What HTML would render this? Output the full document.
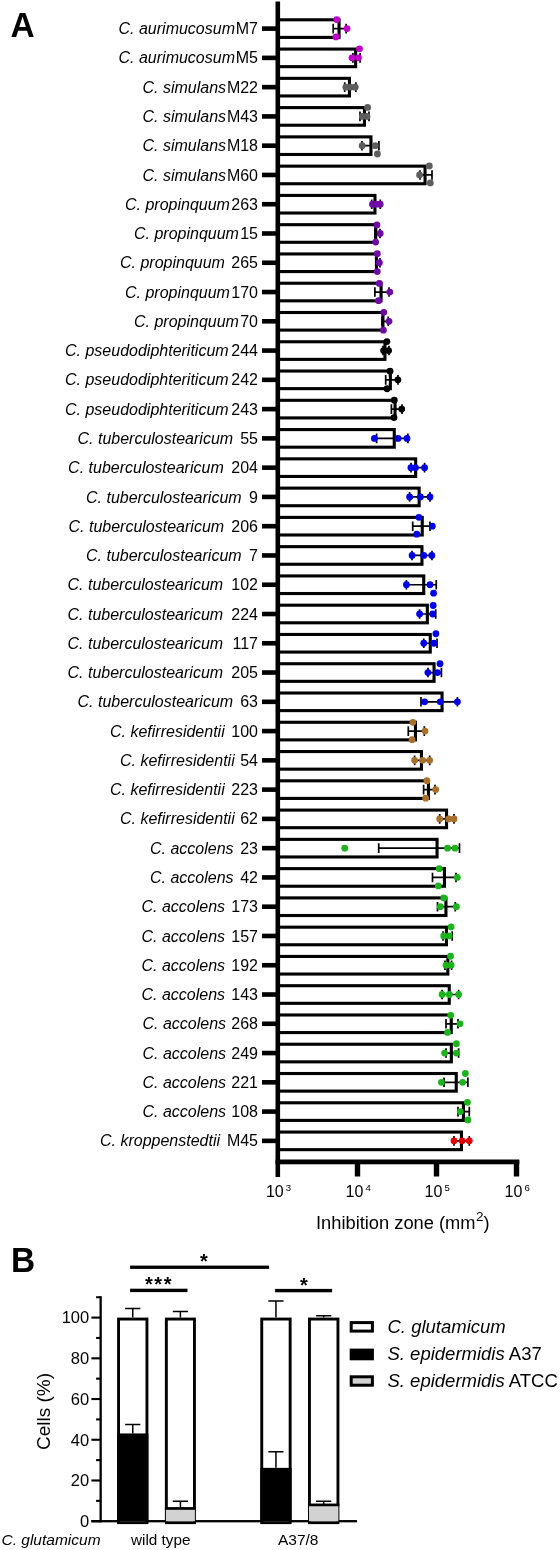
<!DOCTYPE html><html><head><meta charset="utf-8"><style>html,body{margin:0;padding:0;background:#fff;}svg{display:block;will-change:transform;}text{font-family:"Liberation Sans",sans-serif;}</style></head><body>
<svg width="560" height="1550" viewBox="0 0 560 1550">
<rect width="560" height="1550" fill="#fff"/>
<text transform="translate(10.4,37.4) scale(0.93,1)" font-size="36" font-weight="bold">A</text>
<g font-size="16">
<text x="118.5" y="34.2" font-style="italic">C. aurimucosum</text>
<text x="258" y="34.2" text-anchor="end">M7</text>
<text x="118.5" y="63.47" font-style="italic">C. aurimucosum</text>
<text x="258" y="63.47" text-anchor="end">M5</text>
<text x="142.5" y="92.74" font-style="italic">C. simulans</text>
<text x="258" y="92.74" text-anchor="end">M22</text>
<text x="142.5" y="122.01" font-style="italic">C. simulans</text>
<text x="258" y="122.01" text-anchor="end">M43</text>
<text x="142.5" y="151.28" font-style="italic">C. simulans</text>
<text x="258" y="151.28" text-anchor="end">M18</text>
<text x="142.5" y="180.55" font-style="italic">C. simulans</text>
<text x="258" y="180.55" text-anchor="end">M60</text>
<text x="125" y="209.82" font-style="italic">C. propinquum</text>
<text x="258" y="209.82" text-anchor="end">263</text>
<text x="134" y="239.09" font-style="italic">C. propinquum</text>
<text x="258" y="239.09" text-anchor="end">15</text>
<text x="120" y="268.36" font-style="italic">C. propinquum</text>
<text x="258" y="268.36" text-anchor="end">265</text>
<text x="125" y="297.63" font-style="italic">C. propinquum</text>
<text x="258" y="297.63" text-anchor="end">170</text>
<text x="134" y="326.9" font-style="italic">C. propinquum</text>
<text x="258" y="326.9" text-anchor="end">70</text>
<text x="65" y="356.17" font-style="italic">C. pseudodiphteriticum</text>
<text x="258" y="356.17" text-anchor="end">244</text>
<text x="65" y="385.44" font-style="italic">C. pseudodiphteriticum</text>
<text x="258" y="385.44" text-anchor="end">242</text>
<text x="65" y="414.71" font-style="italic">C. pseudodiphteriticum</text>
<text x="258" y="414.71" text-anchor="end">243</text>
<text x="77.5" y="443.98" font-style="italic">C. tuberculostearicum</text>
<text x="258" y="443.98" text-anchor="end">55</text>
<text x="68.1" y="473.25" font-style="italic">C. tuberculostearicum</text>
<text x="258" y="473.25" text-anchor="end">204</text>
<text x="86" y="502.52" font-style="italic">C. tuberculostearicum</text>
<text x="258" y="502.52" text-anchor="end">9</text>
<text x="68.5" y="531.79" font-style="italic">C. tuberculostearicum</text>
<text x="258" y="531.79" text-anchor="end">206</text>
<text x="86" y="561.06" font-style="italic">C. tuberculostearicum</text>
<text x="258" y="561.06" text-anchor="end">7</text>
<text x="67.5" y="590.33" font-style="italic">C. tuberculostearicum</text>
<text x="258" y="590.33" text-anchor="end">102</text>
<text x="67.5" y="619.6" font-style="italic">C. tuberculostearicum</text>
<text x="258" y="619.6" text-anchor="end">224</text>
<text x="67.5" y="648.87" font-style="italic">C. tuberculostearicum</text>
<text x="258" y="648.87" text-anchor="end">117</text>
<text x="67.5" y="678.14" font-style="italic">C. tuberculostearicum</text>
<text x="258" y="678.14" text-anchor="end">205</text>
<text x="77.5" y="707.41" font-style="italic">C. tuberculostearicum</text>
<text x="258" y="707.41" text-anchor="end">63</text>
<text x="110" y="736.68" font-style="italic">C. kefirresidentii</text>
<text x="258" y="736.68" text-anchor="end">100</text>
<text x="120" y="765.95" font-style="italic">C. kefirresidentii</text>
<text x="258" y="765.95" text-anchor="end">54</text>
<text x="110" y="795.22" font-style="italic">C. kefirresidentii</text>
<text x="258" y="795.22" text-anchor="end">223</text>
<text x="120" y="824.49" font-style="italic">C. kefirresidentii</text>
<text x="258" y="824.49" text-anchor="end">62</text>
<text x="150" y="853.76" font-style="italic">C. accolens</text>
<text x="258" y="853.76" text-anchor="end">23</text>
<text x="150" y="883.03" font-style="italic">C. accolens</text>
<text x="258" y="883.03" text-anchor="end">42</text>
<text x="141.5" y="912.3" font-style="italic">C. accolens</text>
<text x="258" y="912.3" text-anchor="end">173</text>
<text x="141.5" y="941.57" font-style="italic">C. accolens</text>
<text x="258" y="941.57" text-anchor="end">157</text>
<text x="141.5" y="970.84" font-style="italic">C. accolens</text>
<text x="258" y="970.84" text-anchor="end">192</text>
<text x="141.5" y="1000.11" font-style="italic">C. accolens</text>
<text x="258" y="1000.11" text-anchor="end">143</text>
<text x="142.5" y="1029.38" font-style="italic">C. accolens</text>
<text x="258" y="1029.38" text-anchor="end">268</text>
<text x="142.5" y="1058.65" font-style="italic">C. accolens</text>
<text x="258" y="1058.65" text-anchor="end">249</text>
<text x="142.5" y="1087.92" font-style="italic">C. accolens</text>
<text x="258" y="1087.92" text-anchor="end">221</text>
<text x="142.5" y="1117.19" font-style="italic">C. accolens</text>
<text x="258" y="1117.19" text-anchor="end">108</text>
<text x="100" y="1146.46" font-style="italic">C. kroppenstedtii</text>
<text x="258" y="1146.46" text-anchor="end">M45</text>
</g>
<rect x="277.8" y="19.8" width="61.25" height="17.6" fill="none" stroke="#000" stroke-width="3.1"/>
<rect x="277.8" y="49.07" width="77.85" height="17.6" fill="none" stroke="#000" stroke-width="3.1"/>
<rect x="277.8" y="78.34" width="71.65" height="17.6" fill="none" stroke="#000" stroke-width="3.1"/>
<rect x="277.8" y="107.61" width="86.65" height="17.6" fill="none" stroke="#000" stroke-width="3.1"/>
<rect x="277.8" y="136.88" width="93.15" height="17.6" fill="none" stroke="#000" stroke-width="3.1"/>
<rect x="277.8" y="166.15" width="147.25" height="17.6" fill="none" stroke="#000" stroke-width="3.1"/>
<rect x="277.8" y="195.42" width="97.15" height="17.6" fill="none" stroke="#000" stroke-width="3.1"/>
<rect x="277.8" y="224.69" width="97.95" height="17.6" fill="none" stroke="#000" stroke-width="3.1"/>
<rect x="277.8" y="253.96" width="98.65" height="17.6" fill="none" stroke="#000" stroke-width="3.1"/>
<rect x="277.8" y="283.23" width="103.25" height="17.6" fill="none" stroke="#000" stroke-width="3.1"/>
<rect x="277.8" y="312.5" width="105.15" height="17.6" fill="none" stroke="#000" stroke-width="3.1"/>
<rect x="277.8" y="341.77" width="107.15" height="17.6" fill="none" stroke="#000" stroke-width="3.1"/>
<rect x="277.8" y="371.04" width="112.55" height="17.6" fill="none" stroke="#000" stroke-width="3.1"/>
<rect x="277.8" y="400.31" width="117.25" height="17.6" fill="none" stroke="#000" stroke-width="3.1"/>
<rect x="277.8" y="429.58" width="116.45" height="17.6" fill="none" stroke="#000" stroke-width="3.1"/>
<rect x="277.8" y="458.85" width="137.85" height="17.6" fill="none" stroke="#000" stroke-width="3.1"/>
<rect x="277.8" y="488.12" width="141.35" height="17.6" fill="none" stroke="#000" stroke-width="3.1"/>
<rect x="277.8" y="517.39" width="144.45" height="17.6" fill="none" stroke="#000" stroke-width="3.1"/>
<rect x="277.8" y="546.66" width="144.15" height="17.6" fill="none" stroke="#000" stroke-width="3.1"/>
<rect x="277.8" y="575.93" width="145.95" height="17.6" fill="none" stroke="#000" stroke-width="3.1"/>
<rect x="277.8" y="605.2" width="149.55" height="17.6" fill="none" stroke="#000" stroke-width="3.1"/>
<rect x="277.8" y="634.47" width="152.45" height="17.6" fill="none" stroke="#000" stroke-width="3.1"/>
<rect x="277.8" y="663.74" width="156.25" height="17.6" fill="none" stroke="#000" stroke-width="3.1"/>
<rect x="277.8" y="693.01" width="164.25" height="17.6" fill="none" stroke="#000" stroke-width="3.1"/>
<rect x="277.8" y="722.28" width="137.65" height="17.6" fill="none" stroke="#000" stroke-width="3.1"/>
<rect x="277.8" y="751.55" width="143.65" height="17.6" fill="none" stroke="#000" stroke-width="3.1"/>
<rect x="277.8" y="780.82" width="150.65" height="17.6" fill="none" stroke="#000" stroke-width="3.1"/>
<rect x="277.8" y="810.09" width="168.75" height="17.6" fill="none" stroke="#000" stroke-width="3.1"/>
<rect x="277.8" y="839.36" width="159.25" height="17.6" fill="none" stroke="#000" stroke-width="3.1"/>
<rect x="277.8" y="868.63" width="166.65" height="17.6" fill="none" stroke="#000" stroke-width="3.1"/>
<rect x="277.8" y="897.9" width="168.15" height="17.6" fill="none" stroke="#000" stroke-width="3.1"/>
<rect x="277.8" y="927.17" width="168.65" height="17.6" fill="none" stroke="#000" stroke-width="3.1"/>
<rect x="277.8" y="956.44" width="170.05" height="17.6" fill="none" stroke="#000" stroke-width="3.1"/>
<rect x="277.8" y="985.71" width="171.45" height="17.6" fill="none" stroke="#000" stroke-width="3.1"/>
<rect x="277.8" y="1014.98" width="173.45" height="17.6" fill="none" stroke="#000" stroke-width="3.1"/>
<rect x="277.8" y="1044.25" width="173.55" height="17.6" fill="none" stroke="#000" stroke-width="3.1"/>
<rect x="277.8" y="1073.52" width="178.45" height="17.6" fill="none" stroke="#000" stroke-width="3.1"/>
<rect x="277.8" y="1102.79" width="185.65" height="17.6" fill="none" stroke="#000" stroke-width="3.1"/>
<rect x="277.8" y="1132.06" width="183.65" height="17.6" fill="none" stroke="#000" stroke-width="3.1"/>
<path d="M333.2 28.6H346.1M333.2 23.8V33.4M346.1 23.8V33.4" stroke="#000" stroke-width="1.7" fill="none"/>
<path d="M352.9 57.87H360.1M352.9 53.07V62.67M360.1 53.07V62.67" stroke="#000" stroke-width="1.7" fill="none"/>
<path d="M344.7 87.14H355.9M344.7 82.34V91.94M355.9 82.34V91.94" stroke="#000" stroke-width="1.7" fill="none"/>
<path d="M360 116.41H369M360 111.61V121.21M369 111.61V121.21" stroke="#000" stroke-width="1.7" fill="none"/>
<path d="M362 145.68H378.9M362 140.88V150.48M378.9 140.88V150.48" stroke="#000" stroke-width="1.7" fill="none"/>
<path d="M420 174.95H432M420 170.15V179.75M432 170.15V179.75" stroke="#000" stroke-width="1.7" fill="none"/>
<path d="M371.7 204.22H380.3M371.7 199.42V209.02M380.3 199.42V209.02" stroke="#000" stroke-width="1.7" fill="none"/>
<path d="M375 233.49H380M375 228.69V238.29M380 228.69V238.29" stroke="#000" stroke-width="1.7" fill="none"/>
<path d="M376 262.76H380M376 257.96V267.56M380 257.96V267.56" stroke="#000" stroke-width="1.7" fill="none"/>
<path d="M374.9 292.03H389M374.9 287.23V296.83M389 287.23V296.83" stroke="#000" stroke-width="1.7" fill="none"/>
<path d="M382 321.3H388.2M382 316.5V326.1M388.2 316.5V326.1" stroke="#000" stroke-width="1.7" fill="none"/>
<path d="M383 350.57H389M383 345.77V355.37M389 345.77V355.37" stroke="#000" stroke-width="1.7" fill="none"/>
<path d="M385.7 379.84H398M385.7 375.04V384.64M398 375.04V384.64" stroke="#000" stroke-width="1.7" fill="none"/>
<path d="M391.4 409.11H402M391.4 404.31V413.91M402 404.31V413.91" stroke="#000" stroke-width="1.7" fill="none"/>
<path d="M376.6 438.38H407.9M376.6 433.58V443.18M407.9 433.58V443.18" stroke="#000" stroke-width="1.7" fill="none"/>
<path d="M411 467.65H424.6M411 462.85V472.45M424.6 462.85V472.45" stroke="#000" stroke-width="1.7" fill="none"/>
<path d="M409.6 496.92H430M409.6 492.12V501.72M430 492.12V501.72" stroke="#000" stroke-width="1.7" fill="none"/>
<path d="M412.7 526.19H430M412.7 521.39V530.99M430 521.39V530.99" stroke="#000" stroke-width="1.7" fill="none"/>
<path d="M412 555.46H432M412 550.66V560.26M432 550.66V560.26" stroke="#000" stroke-width="1.7" fill="none"/>
<path d="M406.4 584.73H436.25M406.4 579.93V589.53M436.25 579.93V589.53" stroke="#000" stroke-width="1.7" fill="none"/>
<path d="M419.6 614H435.7M419.6 609.2V618.8M435.7 609.2V618.8" stroke="#000" stroke-width="1.7" fill="none"/>
<path d="M423.75 643.27H437M423.75 638.47V648.07M437 638.47V648.07" stroke="#000" stroke-width="1.7" fill="none"/>
<path d="M428 672.54H441.4M428 667.74V677.34M441.4 667.74V677.34" stroke="#000" stroke-width="1.7" fill="none"/>
<path d="M421 701.81H457.4M421 697.01V706.61M457.4 697.01V706.61" stroke="#000" stroke-width="1.7" fill="none"/>
<path d="M408.3 731.08H424.3M408.3 726.28V735.88M424.3 726.28V735.88" stroke="#000" stroke-width="1.7" fill="none"/>
<path d="M414.6 760.35H429.7M414.6 755.55V765.15M429.7 755.55V765.15" stroke="#000" stroke-width="1.7" fill="none"/>
<path d="M423.6 789.62H435M423.6 784.82V794.42M435 784.82V794.42" stroke="#000" stroke-width="1.7" fill="none"/>
<path d="M439.7 818.89H454M439.7 814.09V823.69M454 814.09V823.69" stroke="#000" stroke-width="1.7" fill="none"/>
<path d="M378.7 848.16H459.5M378.7 843.36V852.96M459.5 843.36V852.96" stroke="#000" stroke-width="1.7" fill="none"/>
<path d="M432.5 877.43H456M432.5 872.63V882.23M456 872.63V882.23" stroke="#000" stroke-width="1.7" fill="none"/>
<path d="M437.5 906.7H455.3M437.5 901.9V911.5M455.3 901.9V911.5" stroke="#000" stroke-width="1.7" fill="none"/>
<path d="M443 935.97H452.2M443 931.17V940.77M452.2 931.17V940.77" stroke="#000" stroke-width="1.7" fill="none"/>
<path d="M445 965.24H451.6M445 960.44V970.04M451.6 960.44V970.04" stroke="#000" stroke-width="1.7" fill="none"/>
<path d="M442.1 994.51H458.6M442.1 989.71V999.31M458.6 989.71V999.31" stroke="#000" stroke-width="1.7" fill="none"/>
<path d="M446 1023.78H458M446 1018.98V1028.58M458 1018.98V1028.58" stroke="#000" stroke-width="1.7" fill="none"/>
<path d="M446 1053.05H458.6M446 1048.25V1057.85M458.6 1048.25V1057.85" stroke="#000" stroke-width="1.7" fill="none"/>
<path d="M444 1082.32H467.9M444 1077.52V1087.12M467.9 1077.52V1087.12" stroke="#000" stroke-width="1.7" fill="none"/>
<path d="M458 1111.59H469.3M458 1106.79V1116.39M469.3 1106.79V1116.39" stroke="#000" stroke-width="1.7" fill="none"/>
<path d="M454 1140.86H469.3M454 1136.06V1145.66M469.3 1136.06V1145.66" stroke="#000" stroke-width="1.7" fill="none"/>
<circle cx="336.7" cy="19.6" r="3.4" fill="#c000c8"/>
<circle cx="347" cy="28.6" r="3.4" fill="#c000c8"/>
<circle cx="336" cy="36.9" r="3.4" fill="#c000c8"/>
<circle cx="359.5" cy="48.87" r="3.4" fill="#c000c8"/>
<circle cx="352" cy="57.87" r="3.4" fill="#c000c8"/>
<circle cx="358.5" cy="57.87" r="3.4" fill="#c000c8"/>
<circle cx="345.9" cy="87.14" r="3.4" fill="#5e5e5e"/>
<circle cx="350.5" cy="87.14" r="3.4" fill="#5e5e5e"/>
<circle cx="355.2" cy="87.14" r="3.4" fill="#5e5e5e"/>
<circle cx="367.6" cy="107.41" r="3.4" fill="#5e5e5e"/>
<circle cx="362.4" cy="116.41" r="3.4" fill="#5e5e5e"/>
<circle cx="367" cy="116.41" r="3.4" fill="#5e5e5e"/>
<circle cx="362.2" cy="145.68" r="3.4" fill="#5e5e5e"/>
<circle cx="375.3" cy="145.68" r="3.4" fill="#5e5e5e"/>
<circle cx="377.4" cy="153.98" r="3.4" fill="#5e5e5e"/>
<circle cx="429.3" cy="165.95" r="3.4" fill="#5e5e5e"/>
<circle cx="419.6" cy="174.95" r="3.4" fill="#5e5e5e"/>
<circle cx="430.3" cy="182.95" r="3.4" fill="#5e5e5e"/>
<circle cx="372.5" cy="204.22" r="3.4" fill="#6e0aa6"/>
<circle cx="376.5" cy="204.22" r="3.4" fill="#6e0aa6"/>
<circle cx="380.2" cy="204.22" r="3.4" fill="#6e0aa6"/>
<circle cx="376.9" cy="224.89" r="3.4" fill="#6e0aa6"/>
<circle cx="380.2" cy="233.49" r="3.4" fill="#6e0aa6"/>
<circle cx="375.7" cy="242.09" r="3.4" fill="#6e0aa6"/>
<circle cx="377.3" cy="253.76" r="3.4" fill="#6e0aa6"/>
<circle cx="379.4" cy="262.76" r="3.4" fill="#6e0aa6"/>
<circle cx="377.3" cy="271.56" r="3.4" fill="#6e0aa6"/>
<circle cx="379.3" cy="283.43" r="3.4" fill="#6e0aa6"/>
<circle cx="389.8" cy="292.03" r="3.4" fill="#6e0aa6"/>
<circle cx="378.6" cy="300.63" r="3.4" fill="#6e0aa6"/>
<circle cx="383.8" cy="312.3" r="3.4" fill="#6e0aa6"/>
<circle cx="389" cy="321.3" r="3.4" fill="#6e0aa6"/>
<circle cx="383.4" cy="330.2" r="3.4" fill="#6e0aa6"/>
<circle cx="386.9" cy="341.57" r="3.4" fill="#000"/>
<circle cx="383.6" cy="350.57" r="3.4" fill="#000"/>
<circle cx="388.6" cy="350.57" r="3.4" fill="#000"/>
<circle cx="390" cy="371.24" r="3.4" fill="#000"/>
<circle cx="397.9" cy="379.84" r="3.4" fill="#000"/>
<circle cx="387.1" cy="388.74" r="3.4" fill="#000"/>
<circle cx="394.3" cy="400.21" r="3.4" fill="#000"/>
<circle cx="401.7" cy="409.11" r="3.4" fill="#000"/>
<circle cx="394" cy="417.61" r="3.4" fill="#000"/>
<circle cx="374.4" cy="438.38" r="3.4" fill="#0000e6"/>
<circle cx="398" cy="438.38" r="3.4" fill="#0000e6"/>
<circle cx="407" cy="438.38" r="3.4" fill="#0000e6"/>
<circle cx="410.9" cy="467.65" r="3.4" fill="#0000e6"/>
<circle cx="415.4" cy="467.65" r="3.4" fill="#0000e6"/>
<circle cx="424.6" cy="467.65" r="3.4" fill="#0000e6"/>
<circle cx="409.6" cy="496.92" r="3.4" fill="#0000e6"/>
<circle cx="420.4" cy="496.92" r="3.4" fill="#0000e6"/>
<circle cx="430" cy="496.92" r="3.4" fill="#0000e6"/>
<circle cx="418.9" cy="517.29" r="3.4" fill="#0000e6"/>
<circle cx="432.3" cy="526.19" r="3.4" fill="#0000e6"/>
<circle cx="416.8" cy="534.19" r="3.4" fill="#0000e6"/>
<circle cx="412.1" cy="555.46" r="3.4" fill="#0000e6"/>
<circle cx="423.75" cy="555.46" r="3.4" fill="#0000e6"/>
<circle cx="431.8" cy="555.46" r="3.4" fill="#0000e6"/>
<circle cx="406.4" cy="584.73" r="3.4" fill="#0000e6"/>
<circle cx="430" cy="584.73" r="3.4" fill="#0000e6"/>
<circle cx="433.6" cy="593.13" r="3.4" fill="#0000e6"/>
<circle cx="433.2" cy="605.5" r="3.4" fill="#0000e6"/>
<circle cx="419.6" cy="614" r="3.4" fill="#0000e6"/>
<circle cx="432.7" cy="614" r="3.4" fill="#0000e6"/>
<circle cx="435.9" cy="633.77" r="3.4" fill="#0000e6"/>
<circle cx="423.75" cy="643.27" r="3.4" fill="#0000e6"/>
<circle cx="433.9" cy="643.27" r="3.4" fill="#0000e6"/>
<circle cx="440" cy="663.74" r="3.4" fill="#0000e6"/>
<circle cx="427.9" cy="672.54" r="3.4" fill="#0000e6"/>
<circle cx="437.4" cy="672.54" r="3.4" fill="#0000e6"/>
<circle cx="424.6" cy="701.81" r="3.4" fill="#0000e6"/>
<circle cx="440.3" cy="701.81" r="3.4" fill="#0000e6"/>
<circle cx="457.4" cy="701.81" r="3.4" fill="#0000e6"/>
<circle cx="412.9" cy="722.28" r="3.4" fill="#a8702a"/>
<circle cx="425" cy="731.08" r="3.4" fill="#a8702a"/>
<circle cx="412.1" cy="739.68" r="3.4" fill="#a8702a"/>
<circle cx="414.6" cy="760.35" r="3.4" fill="#a8702a"/>
<circle cx="422.6" cy="760.35" r="3.4" fill="#a8702a"/>
<circle cx="429.7" cy="760.35" r="3.4" fill="#a8702a"/>
<circle cx="426.9" cy="780.72" r="3.4" fill="#a8702a"/>
<circle cx="435.7" cy="789.62" r="3.4" fill="#a8702a"/>
<circle cx="425.7" cy="798.22" r="3.4" fill="#a8702a"/>
<circle cx="439.7" cy="818.89" r="3.4" fill="#a8702a"/>
<circle cx="448.6" cy="818.89" r="3.4" fill="#a8702a"/>
<circle cx="454" cy="818.89" r="3.4" fill="#a8702a"/>
<circle cx="344.7" cy="848.16" r="3.4" fill="#1db31d"/>
<circle cx="447.5" cy="848.16" r="3.4" fill="#1db31d"/>
<circle cx="455" cy="848.16" r="3.4" fill="#1db31d"/>
<circle cx="439.25" cy="868.68" r="3.4" fill="#1db31d"/>
<circle cx="457.3" cy="877.43" r="3.4" fill="#1db31d"/>
<circle cx="438.25" cy="885.93" r="3.4" fill="#1db31d"/>
<circle cx="443.75" cy="897.95" r="3.4" fill="#1db31d"/>
<circle cx="440.3" cy="906.7" r="3.4" fill="#1db31d"/>
<circle cx="456.4" cy="906.7" r="3.4" fill="#1db31d"/>
<circle cx="451.1" cy="926.97" r="3.4" fill="#1db31d"/>
<circle cx="443.7" cy="935.97" r="3.4" fill="#1db31d"/>
<circle cx="449.2" cy="935.97" r="3.4" fill="#1db31d"/>
<circle cx="450.5" cy="956.24" r="3.4" fill="#1db31d"/>
<circle cx="446" cy="965.24" r="3.4" fill="#1db31d"/>
<circle cx="451" cy="965.24" r="3.4" fill="#1db31d"/>
<circle cx="442.1" cy="994.51" r="3.4" fill="#1db31d"/>
<circle cx="449.3" cy="994.51" r="3.4" fill="#1db31d"/>
<circle cx="458.6" cy="994.51" r="3.4" fill="#1db31d"/>
<circle cx="450.7" cy="1015.28" r="3.4" fill="#1db31d"/>
<circle cx="460" cy="1023.78" r="3.4" fill="#1db31d"/>
<circle cx="447.6" cy="1032.38" r="3.4" fill="#1db31d"/>
<circle cx="456.4" cy="1043.75" r="3.4" fill="#1db31d"/>
<circle cx="444.6" cy="1053.05" r="3.4" fill="#1db31d"/>
<circle cx="456.4" cy="1053.05" r="3.4" fill="#1db31d"/>
<circle cx="465.4" cy="1073.52" r="3.4" fill="#1db31d"/>
<circle cx="441.4" cy="1082.32" r="3.4" fill="#1db31d"/>
<circle cx="462.6" cy="1082.32" r="3.4" fill="#1db31d"/>
<circle cx="467.4" cy="1102.29" r="3.4" fill="#1db31d"/>
<circle cx="460.3" cy="1111.59" r="3.4" fill="#1db31d"/>
<circle cx="467.9" cy="1119.89" r="3.4" fill="#1db31d"/>
<circle cx="454" cy="1140.86" r="3.4" fill="#e00000"/>
<circle cx="462.1" cy="1140.86" r="3.4" fill="#e00000"/>
<circle cx="469.3" cy="1140.86" r="3.4" fill="#e00000"/>
<rect x="262" y="26.3" width="15.8" height="4.6" fill="#000"/>
<rect x="262" y="55.57" width="15.8" height="4.6" fill="#000"/>
<rect x="262" y="84.84" width="15.8" height="4.6" fill="#000"/>
<rect x="262" y="114.11" width="15.8" height="4.6" fill="#000"/>
<rect x="262" y="143.38" width="15.8" height="4.6" fill="#000"/>
<rect x="262" y="172.65" width="15.8" height="4.6" fill="#000"/>
<rect x="262" y="201.92" width="15.8" height="4.6" fill="#000"/>
<rect x="262" y="231.19" width="15.8" height="4.6" fill="#000"/>
<rect x="262" y="260.46" width="15.8" height="4.6" fill="#000"/>
<rect x="262" y="289.73" width="15.8" height="4.6" fill="#000"/>
<rect x="262" y="319" width="15.8" height="4.6" fill="#000"/>
<rect x="262" y="348.27" width="15.8" height="4.6" fill="#000"/>
<rect x="262" y="377.54" width="15.8" height="4.6" fill="#000"/>
<rect x="262" y="406.81" width="15.8" height="4.6" fill="#000"/>
<rect x="262" y="436.08" width="15.8" height="4.6" fill="#000"/>
<rect x="262" y="465.35" width="15.8" height="4.6" fill="#000"/>
<rect x="262" y="494.62" width="15.8" height="4.6" fill="#000"/>
<rect x="262" y="523.89" width="15.8" height="4.6" fill="#000"/>
<rect x="262" y="553.16" width="15.8" height="4.6" fill="#000"/>
<rect x="262" y="582.43" width="15.8" height="4.6" fill="#000"/>
<rect x="262" y="611.7" width="15.8" height="4.6" fill="#000"/>
<rect x="262" y="640.97" width="15.8" height="4.6" fill="#000"/>
<rect x="262" y="670.24" width="15.8" height="4.6" fill="#000"/>
<rect x="262" y="699.51" width="15.8" height="4.6" fill="#000"/>
<rect x="262" y="728.78" width="15.8" height="4.6" fill="#000"/>
<rect x="262" y="758.05" width="15.8" height="4.6" fill="#000"/>
<rect x="262" y="787.32" width="15.8" height="4.6" fill="#000"/>
<rect x="262" y="816.59" width="15.8" height="4.6" fill="#000"/>
<rect x="262" y="845.86" width="15.8" height="4.6" fill="#000"/>
<rect x="262" y="875.13" width="15.8" height="4.6" fill="#000"/>
<rect x="262" y="904.4" width="15.8" height="4.6" fill="#000"/>
<rect x="262" y="933.67" width="15.8" height="4.6" fill="#000"/>
<rect x="262" y="962.94" width="15.8" height="4.6" fill="#000"/>
<rect x="262" y="992.21" width="15.8" height="4.6" fill="#000"/>
<rect x="262" y="1021.48" width="15.8" height="4.6" fill="#000"/>
<rect x="262" y="1050.75" width="15.8" height="4.6" fill="#000"/>
<rect x="262" y="1080.02" width="15.8" height="4.6" fill="#000"/>
<rect x="262" y="1109.29" width="15.8" height="4.6" fill="#000"/>
<rect x="262" y="1138.56" width="15.8" height="4.6" fill="#000"/>
<rect x="275.5" y="1.5" width="4.6" height="1175.5" fill="#000"/>
<rect x="275.5" y="1159.5" width="243.8" height="4.8" fill="#000"/>
<rect x="354.8" y="1160" width="5.4" height="16.5" fill="#000"/>
<rect x="433.8" y="1160" width="5.4" height="16.5" fill="#000"/>
<rect x="513.8" y="1160" width="5.4" height="16.5" fill="#000"/>
<text x="265.9" y="1197.2" font-size="16">10<tspan font-size="9.6" dx="2" dy="-5.8">3</tspan></text>
<text x="345.6" y="1197.2" font-size="16">10<tspan font-size="9.6" dx="2" dy="-5.8">4</tspan></text>
<text x="424.6" y="1197.2" font-size="16">10<tspan font-size="9.6" dx="2" dy="-5.8">5</tspan></text>
<text x="504.6" y="1197.2" font-size="16">10<tspan font-size="9.6" dx="2" dy="-5.8">6</tspan></text>
<text x="316" y="1229.4" font-size="18.3">Inhibition zone (mm<tspan font-size="13.5" dx="0.5" dy="-8">2</tspan><tspan dy="8">)</tspan></text>
<text transform="translate(11.1,1271.7) scale(0.93,1)" font-size="36" font-weight="bold">B</text>
<rect x="99.5" y="1296.24" width="2.3" height="226.16" fill="#000"/>
<rect x="91.4" y="1520.05" width="265.6" height="2.3" fill="#000"/>
<rect x="91.4" y="1520.15" width="9" height="2.1" fill="#000"/>
<text x="89.2" y="1527" font-size="16.5" text-anchor="end">0</text>
<rect x="96.1" y="1499.79" width="5" height="2.1" fill="#000"/>
<rect x="91.4" y="1479.43" width="9" height="2.1" fill="#000"/>
<text x="89.2" y="1486.28" font-size="16.5" text-anchor="end">20</text>
<rect x="96.1" y="1459.07" width="5" height="2.1" fill="#000"/>
<rect x="91.4" y="1438.71" width="9" height="2.1" fill="#000"/>
<text x="89.2" y="1445.56" font-size="16.5" text-anchor="end">40</text>
<rect x="96.1" y="1418.35" width="5" height="2.1" fill="#000"/>
<rect x="91.4" y="1397.99" width="9" height="2.1" fill="#000"/>
<text x="89.2" y="1404.84" font-size="16.5" text-anchor="end">60</text>
<rect x="96.1" y="1377.63" width="5" height="2.1" fill="#000"/>
<rect x="91.4" y="1357.27" width="9" height="2.1" fill="#000"/>
<text x="89.2" y="1364.12" font-size="16.5" text-anchor="end">80</text>
<rect x="96.1" y="1336.91" width="5" height="2.1" fill="#000"/>
<rect x="91.4" y="1316.55" width="9" height="2.1" fill="#000"/>
<text x="89.2" y="1323.4" font-size="16.5" text-anchor="end">100</text>
<rect x="96.1" y="1296.19" width="5" height="2.1" fill="#000"/>
<rect x="118.55" y="1319.05" width="28.4" height="203.6" fill="#fff" stroke="#000" stroke-width="2.9"/>
<rect x="117.1" y="1433.45" width="31.3" height="87.75" fill="#000"/>
<path d="M132.75 1433.45V1424.59M125.15 1424.59H140.35" stroke="#000" stroke-width="1.5" fill="none"/>
<path d="M132.75 1317.6V1308.5M125.15 1308.5H140.35" stroke="#000" stroke-width="1.5" fill="none"/>
<rect x="166.35" y="1319.05" width="28.1" height="203.6" fill="#fff" stroke="#000" stroke-width="2.9"/>
<rect x="165.9" y="1508.45" width="29" height="12.75" fill="#d2d2d2"/>
<rect x="164.9" y="1507.1" width="31" height="2.7" fill="#000"/>
<path d="M180.4 1508.45V1501.25M172.8 1501.25H188" stroke="#000" stroke-width="1.5" fill="none"/>
<path d="M180.4 1317.6V1311.49M172.8 1311.49H188" stroke="#000" stroke-width="1.5" fill="none"/>
<rect x="261.75" y="1319.05" width="28.4" height="203.6" fill="#fff" stroke="#000" stroke-width="2.9"/>
<rect x="260.3" y="1467.86" width="31.3" height="53.34" fill="#000"/>
<path d="M275.95 1467.86V1451.77M268.35 1451.77H283.55" stroke="#000" stroke-width="1.5" fill="none"/>
<path d="M275.95 1317.6V1300.9M268.35 1300.9H283.55" stroke="#000" stroke-width="1.5" fill="none"/>
<rect x="309.45" y="1319.05" width="28.5" height="203.6" fill="#fff" stroke="#000" stroke-width="2.9"/>
<rect x="309" y="1504.91" width="29.4" height="16.29" fill="#d2d2d2"/>
<rect x="308" y="1503.56" width="31.4" height="2.7" fill="#000"/>
<path d="M323.7 1504.91V1501.25M316.1 1501.25H331.3" stroke="#000" stroke-width="1.5" fill="none"/>
<path d="M323.7 1317.6V1315.77M316.1 1315.77H331.3" stroke="#000" stroke-width="1.5" fill="none"/>
<rect x="130.1" y="1265.6" width="139" height="3.3" fill="#000"/>
<rect x="130.1" y="1288.7" width="57.4" height="3.4" fill="#000"/>
<rect x="275.1" y="1288.9" width="57" height="3.4" fill="#000"/>
<text x="159" y="1290.5" font-size="20" font-weight="bold" letter-spacing="1.6" text-anchor="middle">***</text>
<text x="203.8" y="1268" font-size="20" font-weight="bold" text-anchor="middle">*</text>
<text x="303.9" y="1291.5" font-size="20" font-weight="bold" text-anchor="middle">*</text>
<text transform="translate(50,1450) rotate(-90)" font-size="19">Cells (%)</text>
<rect x="351.2" y="1322.6" width="21.2" height="8.5" fill="#fff" stroke="#000" stroke-width="3"/>
<rect x="349.7" y="1348.6" width="24.2" height="11.7" fill="#000"/>
<rect x="351.2" y="1376.8" width="21.2" height="8.4" fill="#d4d4d4" stroke="#000" stroke-width="3"/>
<g font-size="18.5"><text x="387.5" y="1333.4" font-style="italic">C. glutamicum</text>
<text x="387.5" y="1360.3"><tspan font-style="italic">S. epidermidis</tspan> A37</text>
<text x="387.5" y="1386.7"><tspan font-style="italic">S. epidermidis</tspan> ATCC</text></g>
<text x="1.5" y="1545.4" font-size="15.5" font-style="italic">C. glutamicum</text>
<text x="160.7" y="1545.2" font-size="15.3" text-anchor="middle">wild type</text>
<text x="298.2" y="1545" font-size="15.5" text-anchor="middle">A37/8</text>
</svg></body></html>
